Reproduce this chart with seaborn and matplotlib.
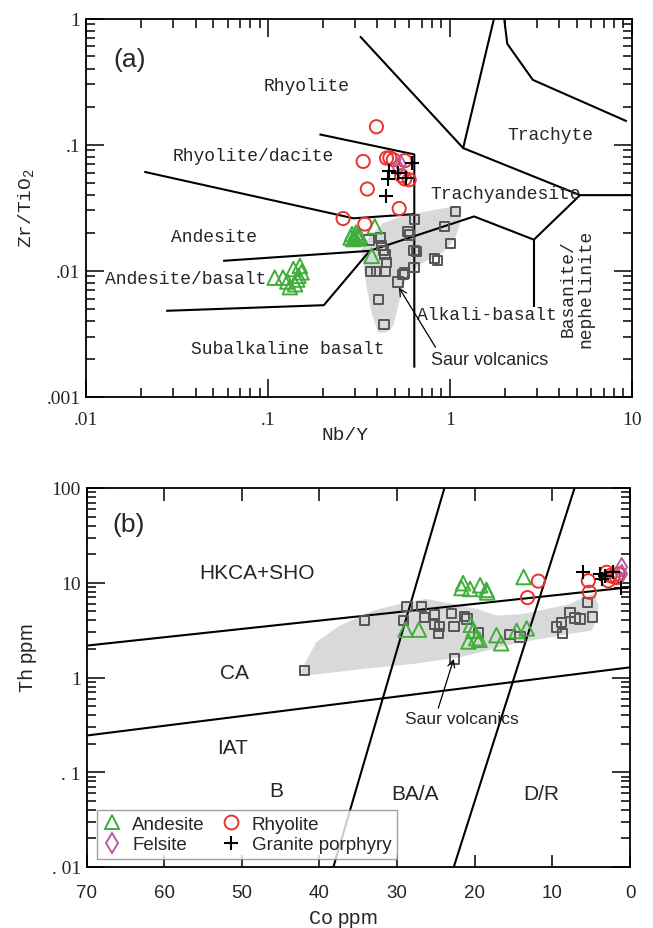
import matplotlib
matplotlib.use("Agg")
import matplotlib.pyplot as plt
import seaborn as sns
import pandas as pd
from matplotlib.lines import Line2D
from matplotlib.ticker import FixedLocator, LogLocator, NullFormatter, NullLocator

sns.set_theme(style="white")
plt.rcParams["font.family"] = ["Liberation Sans", "DejaVu Sans"]
plt.rcParams["mathtext.fontset"] = "custom"
plt.rcParams["mathtext.rm"] = "Liberation Mono"
plt.rcParams["axes.edgecolor"] = "black"

MONO = "Liberation Mono"
SERIF = "Liberation Serif"
SANS = "Liberation Sans"

GREEN = "#3fae3a"
RED = "#e8342c"
PURPLE = "#b65aa8"
GRAY = "#555555"
SHADE = "#d9d9d9"

# ---------------- (a) Zr/TiO2 vs Nb/Y ----------------
andesite_a_nby = [0.290, 0.300, 0.310, 0.295, 0.315, 0.305, 0.285, 0.320,
                  0.387, 0.372,
                  0.109, 0.121, 0.138, 0.150, 0.153, 0.132, 0.141, 0.147, 0.145, 0.128]
andesite_a_zr = [0.0195, 0.0185, 0.0190, 0.0178, 0.0180, 0.0200, 0.0183, 0.0188,
                 0.0224, 0.0131,
                 0.0088, 0.0088, 0.0103, 0.0109, 0.0097, 0.0074, 0.0078, 0.0091, 0.0085, 0.0082]

rhyolite_a_nby = [0.395, 0.334, 0.449, 0.468, 0.489, 0.566, 0.543, 0.566, 0.598,
                  0.352, 0.527, 0.259, 0.341]
rhyolite_a_zr = [0.1385, 0.0735, 0.0781, 0.0785, 0.0758, 0.0745, 0.0566, 0.0533, 0.0526,
                 0.0444, 0.0311, 0.0259, 0.0234]

granite_a_nby = [0.616, 0.464, 0.458, 0.445, 0.578, 0.520]
granite_a_zr = [0.0713, 0.0619, 0.0532, 0.0393, 0.0539, 0.0600]

felsite_a_nby = [0.520, 0.535]
felsite_a_zr = [0.0660, 0.0700]

saur_a_nby = [1.079, 0.642, 0.939, 0.590, 0.602, 0.416, 0.360, 0.421, 0.431, 1.010,
              0.636, 0.656, 0.827, 0.855, 0.440, 0.449, 0.636, 0.366, 0.395, 0.440,
              0.554, 0.566, 0.520, 0.404, 0.435]
saur_a_zr = [0.0293, 0.0253, 0.0223, 0.0205, 0.0192, 0.0181, 0.0175, 0.0159, 0.0145, 0.0164,
             0.0144, 0.0142, 0.0125, 0.0120, 0.0134, 0.0116, 0.0106, 0.00985, 0.00985, 0.0098,
             0.00937, 0.0096, 0.00814, 0.00588, 0.00376]

field_a_nby = [0.327, 0.363, 0.431, 0.554, 0.776, 1.043, 1.159, 1.144, 1.065, 0.919,
               0.714, 0.603, 0.554, 0.520, 0.488, 0.449, 0.404, 0.371, 0.348, 0.334]
field_a_zr = [0.01483, 0.0189, 0.0238, 0.0272, 0.0298, 0.0323, 0.0308, 0.0241, 0.0178, 0.01393,
              0.0116, 0.00967, 0.00758, 0.00526, 0.00365, 0.00323, 0.00323, 0.00466, 0.00758, 0.0116]

# classification boundaries (Nb/Y, Zr/TiO2)
bounds_a = [
    ([0.321, 1.184, 5.2, 10.0], [0.722, 0.0938, 0.0397, 0.0397]),
    ([1.184, 1.75], [0.0938, 1.0]),
    ([1.99, 2.07, 2.86, 9.4], [1.0, 0.63, 0.326, 0.153]),
    ([5.2, 2.90, 1.36, 0.363, 0.0567], [0.0397, 0.0176, 0.0269, 0.01436, 0.01196]),
    ([2.90, 2.90], [0.0176, 0.0051]),
    ([0.0276, 0.203, 0.363], [0.0048, 0.00532, 0.01436]),
    ([0.0209, 0.296, 0.638], [0.0608, 0.0260, 0.0281]),
    ([0.192, 0.638, 0.638], [0.1205, 0.0836, 0.0017]),
]

labels_a = [
    ("Rhyolite", 0.164, 0.293),
    ("Trachyte", 3.59, 0.121),
    ("Rhyolite/dacite", 0.0834, 0.0815),
    ("Trachyandesite", 2.04, 0.041),
    ("Andesite", 0.0505, 0.0187),
    ("Andesite/basalt", 0.0352, 0.00867),
    ("Alkali-basalt", 1.59, 0.00452),
    ("Subalkaline basalt", 0.129, 0.00241),
]

# ---------------- (b) Th vs Co ----------------
andesite_b_co = [28.9, 27.2, 21.5, 21.7, 20.6, 19.3, 18.5, 18.4, 13.7,
                 20.5, 20.2, 20.8, 19.4, 17.2, 16.6, 14.6, 13.3, 19.8]
andesite_b_th = [3.2, 3.2, 9.9, 8.8, 8.6, 9.4, 8.4, 7.9, 11.5,
                 3.6, 3.1, 2.4, 2.5, 2.8, 2.3, 3.1, 3.3, 2.6]

rhyolite_b_co = [11.8, 13.2, 5.37, 5.24, 3.0, 2.58, 2.15, 1.71, 1.51, 2.80]
rhyolite_b_th = [10.4, 6.97, 10.5, 7.94, 12.9, 11.9, 11.6, 11.3, 12.4, 10.5]

granite_b_co = [6.09, 3.87, 3.65, 2.15, 1.16, 3.2]
granite_b_th = [12.9, 12.4, 11.0, 12.9, 8.75, 11.8]

felsite_b_co = [1.07, 1.07]
felsite_b_th = [14.6, 12.4]

saur_b_co = [41.95, 34.19, 29.17, 28.73, 26.89, 26.51, 25.18, 25.18, 24.54, 24.67,
             23.03, 22.65, 21.32, 21.01, 19.52, 22.61, 15.44, 14.15, 9.43, 8.79,
             8.66, 7.72, 7.08, 6.43, 5.49, 4.80]
saur_b_th = [1.19, 3.98, 3.98, 5.64, 5.64, 4.32, 4.60, 3.61, 3.47, 2.90,
             4.72, 3.47, 4.42, 4.15, 2.95, 1.57, 2.84, 2.68, 3.42, 3.82,
             2.90, 4.86, 4.25, 4.15, 6.21, 4.36]

field_b_co = [42.5, 40.4, 37.4, 33.1, 28.8, 26.2, 22.8, 19.75, 17.2, 13.75, 10.7, 7.73,
              6.02, 4.51, 4.08, 4.29, 4.93, 7.73, 11.6, 15.0, 18.5, 21.9, 27.9, 34.4,
              39.9, 42.1]
field_b_th = [1.14, 2.36, 3.52, 5.08, 6.22, 6.75, 5.97, 5.29, 4.50, 4.69, 5.29, 5.97,
              7.03, 7.62, 5.73, 4.15, 3.13, 2.88, 2.55, 2.26, 1.92, 1.64, 1.39, 1.23,
              1.09, 1.05]

bounds_b = [
    ([70, 0], [2.17, 8.98]),
    ([70, 0], [0.244, 1.28]),
    ([23.9, 38.2], [100, 0.01]),
    ([7.14, 22.7], [100, 0.01]),
]

labels_b = [
    ("HKCA+SHO", 48.1, 12.9),
    ("CA", 50.9, 1.14),
    ("IAT", 51.2, 0.184),
    ("B", 45.5, 0.064),
    ("BA/A", 27.7, 0.059),
    ("D/R", 11.4, 0.059),
]

fig = plt.figure(figsize=(6.53, 9.29), dpi=100)
axA = fig.add_axes([86 / 653, 1 - 397.7 / 929, 545.7 / 653, 378.2 / 929])
axB = fig.add_axes([86.5 / 653, 1 - 868 / 929, 543.5 / 653, 379 / 929])


def draw_groups(ax, groups):
    for x, y, marker, size, color, open_marker in groups:
        df = pd.DataFrame({"x": x, "y": y})
        if open_marker:
            sns.scatterplot(data=df, x="x", y="y", ax=ax, marker=marker, s=size,
                            facecolor="none", edgecolor=color, linewidth=1.4,
                            zorder=4, legend=False)
        else:
            sns.scatterplot(data=df, x="x", y="y", ax=ax, marker=marker, s=size,
                            color=color, linewidth=1.5, zorder=5, legend=False)


def style_axis(ax):
    for sp in ax.spines.values():
        sp.set_color("black")
        sp.set_linewidth(1.3)
    ax.tick_params(which="major", direction="in", length=13, width=1.1,
                   top=True, right=True, bottom=True, left=True, color="black")
    ax.tick_params(which="minor", direction="in", length=6.5, width=1.1,
                   top=True, right=True, bottom=True, left=True, color="black")
    ax.set_xlabel("")
    ax.set_ylabel("")


# ---- panel (a)
axA.set_xscale("log")
axA.set_yscale("log")
axA.fill(field_a_nby, field_a_zr, color=SHADE, lw=0, zorder=1)
for xs, ys in bounds_a:
    axA.plot(xs, ys, color="black", lw=1.5, zorder=3, solid_capstyle="butt")
draw_groups(axA, [
    (saur_a_nby, saur_a_zr, "s", 45, GRAY, True),
    (andesite_a_nby, andesite_a_zr, "^", 110, GREEN, True),
    (rhyolite_a_nby, rhyolite_a_zr, "o", 90, RED, True),
    (felsite_a_nby, felsite_a_zr, "d", 85, PURPLE, True),
    (granite_a_nby, granite_a_zr, "+", 90, "black", False),
])
axA.set_xlim(0.01, 10)
axA.set_ylim(0.001, 1)
style_axis(axA)
axA.xaxis.set_major_locator(FixedLocator([0.01, 0.1, 1, 10]))
axA.xaxis.set_minor_locator(LogLocator(base=10, subs=range(2, 10), numticks=20))
axA.yaxis.set_major_locator(FixedLocator([0.001, 0.01, 0.1, 1]))
axA.yaxis.set_minor_locator(LogLocator(base=10, subs=range(2, 10), numticks=20))
axA.xaxis.set_minor_formatter(NullFormatter())
axA.yaxis.set_minor_formatter(NullFormatter())
axA.set_xticklabels([".01", ".1", "1", "10"], family=SERIF, fontsize=14)
axA.set_yticklabels([".001", ".01", ".1", "1"], family=SERIF, fontsize=14)
axA.tick_params(axis="x", which="major", pad=10)
axA.tick_params(axis="y", which="major", pad=4)

for txt, x, y in labels_a:
    axA.text(x, y, txt, family=MONO, fontsize=13, ha="center", va="center", zorder=6)
axA.text(5.01, 0.00733, "Basanite/\nnephelinite", family=MONO, fontsize=13,
         rotation=90, ha="center", va="center", linespacing=1.0, zorder=6)
axA.text(0.0173, 0.477, "(a)", family=SANS, fontsize=19, ha="center", va="center")
axA.annotate("Saur volcanics", xy=(0.525, 0.00735), xytext=(1.65, 0.00199),
             family=SANS, fontsize=13, ha="center", va="center", zorder=6,
             arrowprops=dict(arrowstyle="->", color="black", lw=0.9,
                             shrinkA=0, shrinkB=0, relpos=(0.08, 0.75)))
axA.set_xlabel("Nb/Y", family=MONO, fontsize=14, va="center")
axA.set_ylabel(r"Zr/TiO$_\mathrm{2}$", family=MONO, fontsize=14, va="center")
axA.xaxis.set_label_coords(0.475, -0.101)
axA.yaxis.set_label_coords(-0.108, 0.5)

# ---- panel (b)
axB.set_yscale("log")
axB.fill(field_b_co, field_b_th, color=SHADE, lw=0, zorder=1)
for xs, ys in bounds_b:
    axB.plot(xs, ys, color="black", lw=1.5, zorder=3)
draw_groups(axB, [
    (saur_b_co, saur_b_th, "s", 45, GRAY, True),
    (andesite_b_co, andesite_b_th, "^", 110, GREEN, True),
    (rhyolite_b_co, rhyolite_b_th, "o", 90, RED, True),
    (felsite_b_co, felsite_b_th, "d", 85, PURPLE, True),
    (granite_b_co, granite_b_th, "+", 90, "black", False),
])
axB.set_xlim(70, 0)
axB.set_ylim(0.01, 100)
style_axis(axB)
axB.xaxis.set_major_locator(FixedLocator([70, 60, 50, 40, 30, 20, 10, 0]))
axB.xaxis.set_minor_locator(NullLocator())
axB.yaxis.set_major_locator(FixedLocator([0.01, 0.1, 1, 10, 100]))
axB.yaxis.set_minor_locator(LogLocator(base=10, subs=range(2, 10), numticks=20))
axB.yaxis.set_minor_formatter(NullFormatter())
axB.set_xticklabels(["70", "60", "50", "40", "30", "20", "10", "0"], family=SANS, fontsize=13.5)
axB.set_yticklabels([". 01", ". 1", "1", "10", "100"], family=SERIF, fontsize=14)
axB.tick_params(axis="x", which="major", length=9, pad=12)
axB.tick_params(axis="y", which="major", pad=4)

for txt, x, y in labels_b:
    axB.text(x, y, txt, family=SANS, fontsize=15, ha="center", va="center", zorder=6)
axB.text(64.6, 41.7, "(b)", family=SANS, fontsize=19, ha="center", va="center")
axB.annotate("Saur volcanics", xy=(22.7, 1.57), xytext=(21.6, 0.366),
             family=SANS, fontsize=12.5, ha="center", va="center", zorder=6,
             arrowprops=dict(arrowstyle="->", color="black", lw=0.9,
                             shrinkA=0, shrinkB=0, relpos=(0.28, 1.0)))
axB.set_xlabel(r"$\mathrm{Co}$ ppm", family=SANS, fontsize=14.5, va="center")
axB.set_ylabel(r"$\mathrm{Th}$ ppm", family=SANS, fontsize=14.5, va="center")
axB.xaxis.set_label_coords(0.472, -0.137)
axB.yaxis.set_label_coords(-0.108, 0.554)

handles = [
    Line2D([], [], ls="none", marker="^", ms=10.5, mfc="none", mec=GREEN, mew=1.4),
    Line2D([], [], ls="none", marker="d", ms=10.5, mfc="none", mec=PURPLE, mew=1.4),
    Line2D([], [], ls="none", marker="o", ms=10, mfc="none", mec=RED, mew=1.4),
    Line2D([], [], ls="none", marker="+", ms=10.5, color="black", mew=1.5),
]
leg = axB.legend(handles, ["Andesite", "Felsite", "Rhyolite", "Granite porphyry"],
                 ncol=2, loc="lower left", bbox_to_anchor=(0.019, 0.021),
                 borderaxespad=0, frameon=True, fancybox=False,
                 handlelength=1.0, handletextpad=0.6, columnspacing=0.9,
                 labelspacing=0.2, borderpad=0.3, prop={"family": SANS, "size": 13.5})
leg.get_frame().set_edgecolor("#888888")
leg.get_frame().set_linewidth(1.0)
leg.set_zorder(7)

fig.savefig("out.png", dpi=100)
